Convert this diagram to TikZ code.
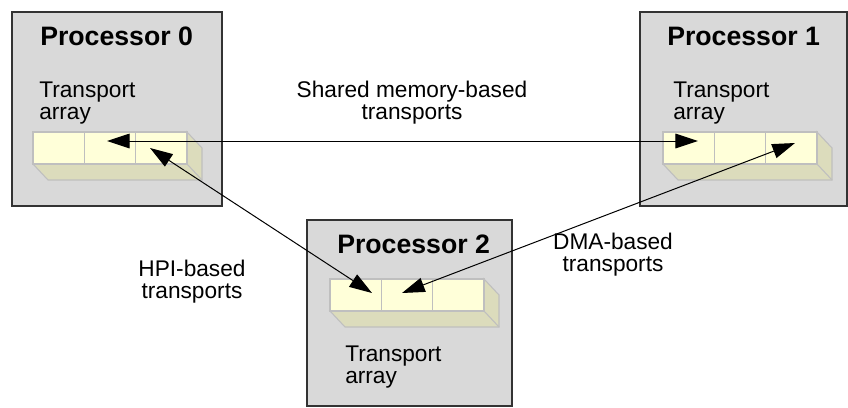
\documentclass[tikz,border=0pt]{standalone}
\usepackage{fontspec}
\setmainfont{Liberation Sans}
\usetikzlibrary{arrows.meta}
\definecolor{boxgray}{HTML}{D9D9D9}
\definecolor{cellyellow}{HTML}{FFFFD9}
\definecolor{cellshade}{HTML}{DCDCBC}
\definecolor{cellline}{HTML}{BFBFBF}

\begin{document}
\begin{tikzpicture}[x=0.75pt, y=-0.75pt,
  procbox/.style={draw=black!80, line width=1pt, fill=boxgray, anchor=north west, inner sep=0pt, outer sep=0pt},
  proctitle/.style={anchor=base west, inner sep=0pt, font=\fontsize{20}{24}\selectfont\bfseries},
  plain/.style={inner sep=0pt, font=\fontsize{17}{16}\selectfont},
  cell/.style={draw=cellline, line width=0.8pt, fill=cellyellow, anchor=north west,
    minimum width=38.5pt, minimum height=24pt, inner sep=0pt, outer sep=0pt},
  link/.style={line width=0.75pt, {Triangle[length=17pt,width=11pt]}-{Triangle[length=17pt,width=11pt]}}]

\useasboundingbox (0,0) rectangle (848,407);

% processor boxes
\node[procbox, minimum width=157.5pt, minimum height=145.5pt] (proc0) at (12,12) {};
\node[procbox, minimum width=155.25pt, minimum height=145.5pt] (proc1) at (640,12) {};
\node[procbox, minimum width=153.75pt, minimum height=139.5pt] (proc2) at (307,220) {};

\node[proctitle] (title0) at (40,45) {Processor 0};
\node[proctitle] (title1) at (667,45) {Processor 1};
\node[proctitle] (title2) at (337,253) {Processor 2};

% transport arrays
\foreach \n/\x/\y in {p0/33/132, p1/663/132, p2/330/279}{
  \filldraw[draw=cellline, fill=cellshade, line width=0.8pt]
    (\x,\y+32) -- (\x+15,\y+48) -- (\x+169,\y+48) -- (\x+169,\y+16)
    -- (\x+154,\y) -- (\x+154,\y+32) -- cycle;
  \draw[cellline, line width=0.8pt] (\x+154,\y+32) -- (\x+169,\y+48);
  \foreach \k in {1,2,3}
    \node[cell] (\n-c\k) at ({\x+(\k-1)*51.33},\y) {};
}

\node[plain, anchor=base west, align=left] (arr0) at (39,119) {Transport\\array};
\node[plain, anchor=base west, align=left] (arr1) at (673,119) {Transport\\array};
\node[plain, anchor=base west, align=left] (arr2) at (345,383) {Transport\\array};

% links
\node[plain, anchor=base, align=center] (shm) at (412,119) {Shared memory-based\\transports};
\node[plain, anchor=base, align=center] (hpi) at (192,298) {HPI-based\\transports};
\node[plain, anchor=base, align=center] (dma) at (613,271) {DMA-based\\transports};

\coordinate (shm0) at (107,141);
\coordinate (shm1) at (698,141);
\coordinate (hpi0) at (150,148);
\coordinate (hpi2) at (372,293);
\coordinate (dma1) at (795,143);
\coordinate (dma2) at (402,293);

\draw[link] (shm0) -- (shm1);
\draw[link] (hpi0) -- (hpi2);
\draw[link] (dma1) -- (dma2);
\end{tikzpicture}
\end{document}
